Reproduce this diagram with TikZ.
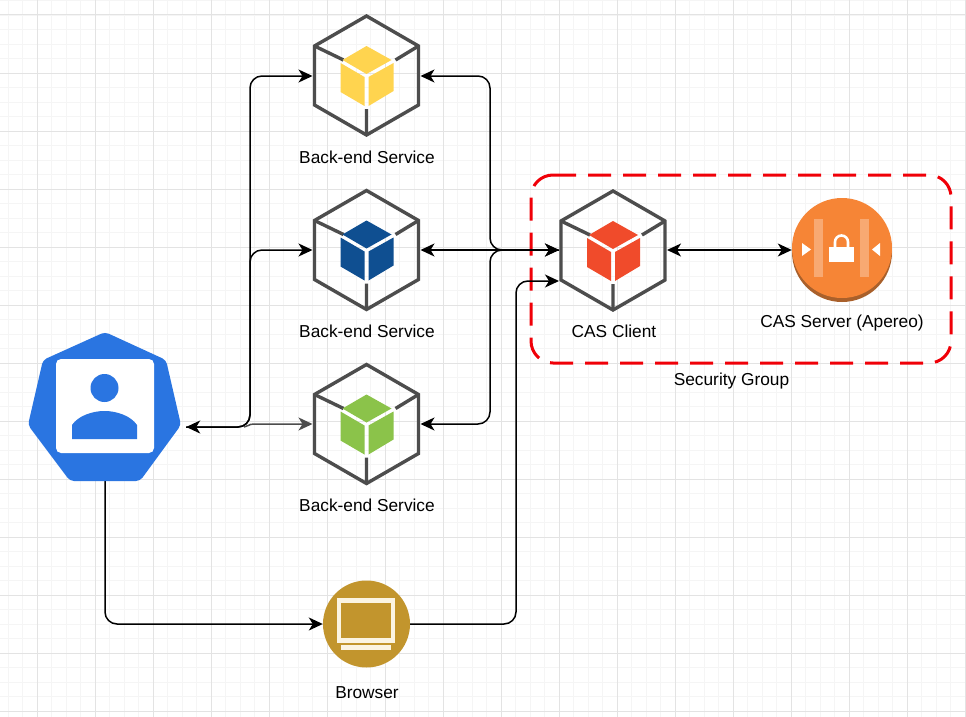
\documentclass[tikz,border=0pt]{standalone}
\usepackage{fontspec}
\setmainfont{Liberation Sans}
\usetikzlibrary{arrows.meta}
\definecolor{hexgray}{HTML}{4D4D4D}
\definecolor{kblue}{HTML}{2A75E1}
\definecolor{gminor}{HTML}{F5F5F5}
\definecolor{gmajor}{HTML}{E3E3E3}
\definecolor{cyellow}{HTML}{FFD44F}
\definecolor{cblue}{HTML}{0F4F91}
\definecolor{cgreen}{HTML}{8BC34A}
\definecolor{cred}{HTML}{F04B2B}
\definecolor{sorange}{HTML}{F68536}
\definecolor{sdark}{HTML}{A9602B}
\definecolor{bgold}{HTML}{C2952D}
\definecolor{bwhite}{HTML}{FBF4E2}
\definecolor{gred}{HTML}{F00008}
\tikzset{
  x=1pt,y=-1pt,
  hexnode/.style={minimum width=104pt,minimum height=119pt,inner sep=0pt,outer sep=2pt},
  lab/.style={font=\fontsize{17.3}{20}\selectfont,inner sep=0pt,text=black},
  conn/.style={draw=black,line width=1.5pt,rounded corners=12pt},
  tip/.style={-{Stealth[length=14pt,width=13pt,inset=4pt]}},
  tips/.style={{Stealth[length=14pt,width=13pt,inset=4pt]}-{Stealth[length=14pt,width=13pt,inset=4pt]}},
}
\newcommand{\svc}[3]{% x y colour
  \begin{scope}[shift={(#1,#2)}]
    \draw[hexgray,line width=3.4pt,line join=miter] (0,-59)--(52,-29)--(52,30)--(0,60)--(-52,30)--(-52,-29)--cycle;
    \draw[hexgray,line width=3.4pt] (-52,-29)--(-23,-15) (52,-29)--(29,-15) (0,60)--(0,34);
    \fill[#3] (0,-29)--(25,-15)--(0,-1)--(-24,-15)--cycle;
    \fill[#3] (-26,-12)--(-2,2)--(-2,31)--(-26,17)--cycle;
    \fill[#3] (2,2)--(27,-12)--(27,16)--(2,31)--cycle;
  \end{scope}}
\begin{document}
\begin{tikzpicture}
\useasboundingbox (0,0) rectangle (966,717);
\fill[white] (0,0) rectangle (966,717);
\foreach \i in {0,...,67} \draw[gminor,line width=.8pt] ({8.25+14.5*\i},0)--({8.25+14.5*\i},717);
\foreach \i in {0,...,50} \draw[gminor,line width=.8pt] (0,{0.5+14.5*\i})--(966,{0.5+14.5*\i});
\foreach \i in {0,...,16} \draw[gmajor,line width=1pt] ({37.25+58*\i},0)--({37.25+58*\i},717);
\foreach \i in {0,...,12} \draw[gmajor,line width=1pt] (0,{15+58*\i})--(966,{15+58*\i});

% group
\draw[gred,line width=3pt,dash pattern=on 23pt off 12pt] (553,175)--(929,175) arc[start angle=-90,end angle=0,radius=22]--(951,341) arc[start angle=0,end angle=90,radius=22]--(553,363) arc[start angle=90,end angle=180,radius=22]--(531,197) arc[start angle=180,end angle=270,radius=22];

% anchor nodes
\node[hexnode] (a) at (366.5,76) {};
\node[hexnode] (b) at (366.5,250) {};
\node[hexnode] (c) at (366.5,424) {};
\node[hexnode] (cas) at (613,250) {};
\node[circle,minimum size=100pt,inner sep=0pt] (srv) at (842,250) {};
\node[circle,minimum size=87pt,inner sep=0pt] (brw) at (366.5,624) {};
\node[minimum width=152pt,minimum height=148pt,inner sep=0pt] (k) at (105,406) {};
\coordinate (kr) at ([xshift=5pt,yshift=-21pt]k.east);
\coordinate (casin) at ([yshift=-31pt]cas.west);
\coordinate (ksplit) at (244,427);

\svc{366.5}{75}{cyellow}
\svc{366.5}{249.5}{cblue}
\svc{366.5}{423.5}{cgreen}
\svc{613}{250}{cred}

% connectors
\draw[conn,tips] (kr) -- (250,427) -- (250,76) -- (a.west);
\draw[conn,tip] (kr) -- (250,427) -- (250,250) -- (b.west);
\draw[draw=hexgray,line width=1.5pt,tip] (ksplit) .. controls (248,427) and (248,424) .. (254,424) -- (c.west);
\draw[conn,tips] (cas.west) -- (490,250) -- (490,76) -- (a.east);
\draw[conn,tips] (cas.west) -- (b.east);
\draw[conn,tip] (cas.west) -- (490,250) -- (490,424) -- (c.east);
\draw[conn,tips] (cas.east) -- (srv.west);
\draw[conn,tip] (k.south) -- (105,624) -- (brw.west);
\draw[conn,tip] (brw.east) -- (516,624) -- (516,281) -- (casin);

% kubernetes user
\fill[kblue,rounded corners=4pt] (105,332)--(166,360)--(181,425)--(140,481)--(70,481)--(28,425)--(43,360)--cycle;
\fill[white,rounded corners=5pt] (56,359) rectangle (154,453);
\fill[kblue] (104.5,388) circle[radius=14];
\fill[kblue] (72,439)--(72,425) .. controls (78,416) and (92,411) .. (104.5,411) .. controls (117,411) and (131,416) .. (137,425)--(137,439)--cycle;

% browser
\fill[bgold] (366.5,624) circle[radius=43.5];
\fill[bwhite] (337,598) rectangle (395,643);
\fill[bgold] (341,603) rectangle (391,638);
\fill[bwhite] (341,644.5) rectangle (391,649.5);

% server
\fill[sdark] (842,252) circle[radius=50];
\fill[sorange] (842,248) circle[radius=50];
\fill[white,opacity=.3] (814,219) rectangle (823,277);
\fill[white,opacity=.3] (860,219) rectangle (869,277);
\fill[white] (802,243)--(811,249.5)--(802,256)--cycle;
\fill[white] (880,243)--(872,249.5)--(880,256)--cycle;
\fill[white] (829,247) rectangle (854,262);
\draw[white,line width=2.6pt] (835,247)--(835,242) arc[start angle=180,end angle=360,radius=6.5]--(848,247);

% labels
\node[lab] (la) at (367,157.5) {Back-end Service};
\node[lab] (lb) at (367,331.5) {Back-end Service};
\node[lab] (lc) at (367,505.5) {Back-end Service};
\node[lab] (lcas) at (614,331.5) {CAS Client};
\node[lab] (lsrv) at (842,323) {CAS Server (Apereo)};
\node[lab] (lsg) at (731.5,381) {Security Group};
\node[lab] (lbr) at (367,692.5) {Browser};
\end{tikzpicture}
\end{document}
